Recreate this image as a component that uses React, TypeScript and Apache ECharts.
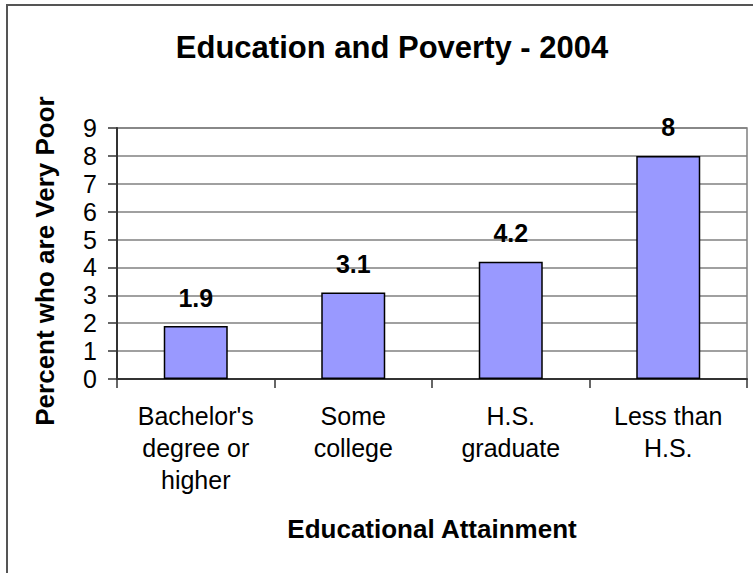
import React, { useEffect, useRef } from "react";
import * as echarts from "echarts";

const categories = [
  "Bachelor's\ndegree or\nhigher",
  "Some\ncollege",
  "H.S.\ngraduate",
  "Less than\nH.S.",
];
const values = [1.9, 3.1, 4.2, 8];
const titleText = "Education and Poverty - 2004";
const yAxisTitle = "Percent who are Very Poor";
const xAxisTitle = "Educational Attainment";

const FONT = '"Liberation Sans", Arial, Helvetica, sans-serif';

export default function App() {
  const ref = useRef<HTMLDivElement>(null);
  useEffect(() => {
    if (!ref.current) return;
    const chart = echarts.init(ref.current, undefined, { renderer: "svg" });
    chart.setOption({
      animation: false,
      backgroundColor: "#ffffff",
      title: {
        text: titleText,
        left: 387,
        top: 27,
        textAlign: "center",
        textStyle: { fontFamily: FONT, fontSize: 31, fontWeight: "bold", color: "#000" },
      },
      graphic: [
        {
          type: "rect",
          shape: { x: 7, y: 5, width: 800, height: 620 },
          style: { fill: "none", stroke: "#555555", lineWidth: 2 },
          silent: true,
          z: 100,
        },
        {
          type: "text",
          x: 45,
          y: 261,
          rotation: Math.PI / 2,
          style: {
            text: yAxisTitle,
            x: 0,
            y: 0,
            align: "center",
            verticalAlign: "middle",
            fontFamily: FONT,
            fontSize: 26,
            fontWeight: "bold",
            fill: "#000",
          },
        },
      ],
      grid: {
        left: 117,
        top: 128,
        right: 6,
        bottom: 194,
        show: true,
        borderColor: "#808080",
        borderWidth: 1.5,
        containLabel: false,
      },
      xAxis: {
        type: "category",
        data: categories,
        name: xAxisTitle,
        nameLocation: "middle",
        nameGap: 137,
        nameTextStyle: { fontFamily: FONT, fontSize: 26, fontWeight: "bold", color: "#000", verticalAlign: "top" },
        axisLine: { show: true, lineStyle: { color: "#333333", width: 2 } },
        axisTick: { show: true, length: 9, lineStyle: { color: "#333333", width: 1.5 } },
        axisLabel: {
          fontFamily: FONT,
          fontSize: 25,
          color: "#000",
          lineHeight: 32,
          margin: 21,
          interval: 0,
        },
      },
      yAxis: {
        type: "value",
        min: 0,
        max: 9,
        interval: 1,
        axisLine: { show: true, lineStyle: { color: "#333333", width: 2 } },
        axisTick: { show: true, length: 9, lineStyle: { color: "#333333", width: 1.5 } },
        axisLabel: { fontFamily: FONT, fontSize: 25, color: "#000", margin: 20 },
        splitLine: { show: true, lineStyle: { color: "#808080", width: 1.5 } },
      },
      series: [
        {
          type: "bar",
          data: values,
          barWidth: 64,
          itemStyle: { color: "#9999FF", borderColor: "#000000", borderWidth: 1.5 },
          label: {
            show: true,
            position: "top",
            distance: 16,
            fontFamily: FONT,
            fontSize: 25,
            fontWeight: "bold",
            color: "#000",
          },
        },
      ],
    });
    return () => chart.dispose();
  }, []);
  return (
    <div
      ref={ref}
      style={{ position: "fixed", left: 0, top: 0, width: 753, height: 573 }}
    />
  );
}
